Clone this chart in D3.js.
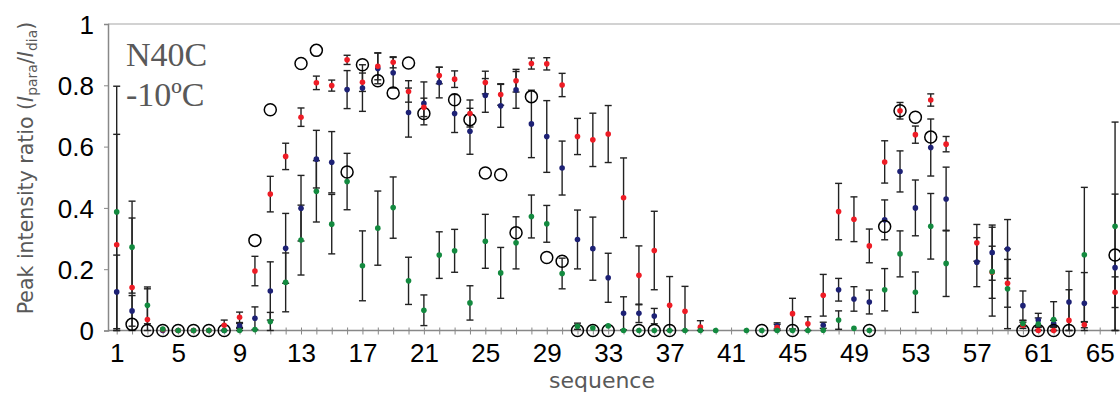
<!DOCTYPE html>
<html>
<head>
<meta charset="utf-8">
<script src="https://cdn.jsdelivr.net/npm/d3@7/dist/d3.min.js"></script>
<style>
  body { margin: 0; background: #fff; }
  svg { display: block; }
</style>
</head>
<body>
<figure id="chart" style="margin:0"></figure>
<script>
// residue numbers 1..66
const sequence = d3.range(1, 67);
const xTickLabels = [1, 5, 9, 13, 17, 21, 25, 29, 33, 37, 41, 45, 49, 53, 57, 61, 65];
const yTickLabels = [0, 0.2, 0.4, 0.6, 0.8, 1];

// red series (value, error) per residue, null = no data
const redValues = [0.28,0.14,0.036,0.003,0,0,0,0.017,0.043,0.194,0.445,0.568,0.696,0.808,0.799,0.883,0.81,0.862,0.875,0.78,0.728,0.832,0.82,0.708,0.809,0.77,0.815,0.871,0.87,0.801,0.633,0.622,0.641,0.433,0.18,0.261,0.082,0.063,0.011,null,null,null,null,0.01,0.055,0.022,0.115,0.388,0.363,0.276,0.55,0.717,0.639,0.752,0.608,null,0.286,0.19,0.154,0.017,0,0,0.033,0.019,null,0.125];
const redErrors = [0.36,0.227,0.1,0,0,0,0,0.017,0.017,0.048,0.058,0.043,0.03,0.022,0.018,0.015,0.03,0.044,0.018,0.035,0.03,0.027,0.027,0.044,0.037,0.035,0.037,0.018,0.02,0.038,0.059,0.087,0.093,0.13,0.096,0.128,0.094,0.081,0.021,null,null,null,null,0.01,0.05,0.023,0.068,0.092,0.073,0.055,0.069,0.027,0.028,0.02,0.025,null,0.06,0.085,0.078,0.01,0.01,0.01,0.1,0.01,null,0.05];

// navy series
const navyValues = [0.126,0.064,null,0,0,0,0,0,0.015,0.04,0.129,0.268,0.399,0.559,0.549,0.786,0.791,0.855,0.841,0.711,0.741,0.809,0.708,0.65,0.767,0.733,0.785,0.674,0.633,0.53,0.297,0.267,0.172,0.056,0.056,0.047,null,null,null,null,null,null,null,0.015,null,null,0.017,0.133,0.103,0.093,0.361,0.519,0.4,0.597,0.429,null,0.223,0.254,0.266,0.081,0.034,0.023,0.093,0.089,null,0.205];
const navyErrors = [0.12,0.05,null,0,0,0,0,0,0.008,0.037,0.095,0.114,0.107,0.094,0.1,0.062,0.076,0.05,0.05,0.08,0.07,0.05,0.062,0.075,0.055,0.07,0.06,0.11,0.117,0.088,0.096,0.103,0.08,0.054,0.03,0.025,null,null,null,null,null,null,null,0.01,null,null,0.01,0.037,0.04,0.039,0.065,0.067,0.091,0.093,0.104,null,0.08,0.09,0.096,0.048,0.022,0.01,0.1,0.1,null,0.24];

// green series
const greenValues = [0.387,0.272,0.082,0.005,0,0,0,0,0,0.003,0.029,0.157,0.295,0.454,0.347,0.486,0.211,0.334,0.401,0.162,0.066,0.246,0.26,0.09,0.291,0.188,0.286,0.372,0.348,0.186,0.014,0.008,0.015,0,0,0,0,0,0,0,null,0,0,0,0,0,0.001,0.034,0.007,0,0.133,0.25,0.125,0.34,0.219,null,null,0.192,0.136,0.023,0.021,0.036,null,0.247,null,0.34];
const greenErrors = [0.41,0.15,0.06,0,0,0,0,0,0.01,0,0.03,0.096,0.114,0.1,0.097,0.092,0.114,0.121,0.1,0.077,0.05,0.076,0.07,0.056,0.088,0.083,0.085,0.07,0.06,0.05,0.01,0,0,0,0,0,0,0,0,0,null,0,0,0,0,0,0,0.03,0,0,0.069,0.075,0.066,0.107,0.108,null,null,0.145,0.13,0.01,0.02,0.058,null,0.22,null,0.34];

// open circles
const circleValues = [null,0.02,0,0,0,0,0,0,null,0.294,0.72,null,0.871,0.914,null,0.517,0.867,0.815,0.775,0.873,0.708,null,0.753,0.688,0.514,0.508,0.319,0.763,0.238,0.226,0,0,0,null,0,0,0,null,null,null,null,null,0,null,0,null,null,null,null,0,0.339,0.717,0.696,0.631,null,null,null,null,null,0,0,0,0,null,null,0.246];

const width = 1120, height = 398;
const plotLeft = 108, plotRight = 1120, plotTop = 24, plotBottom = 330.5;

const svg = d3.select("figure#chart")
  .append("svg")
  .attr("width", width)
  .attr("height", height)
  .style("font-family", "'DejaVu Sans', sans-serif");

const x = d3.scaleLinear().domain([1, 65]).range([116.7, 1099.7]);
const y = d3.scaleLinear().domain([0, 1]).range([plotBottom, plotTop]);

// top border line
svg.append("line")
  .attr("x1", plotLeft).attr("x2", plotRight)
  .attr("y1", y(1)).attr("y2", y(1))
  .attr("stroke", "#d2d2d2").attr("stroke-width", 2);

// y axis
const yAxis = svg.append("g")
  .attr("transform", "translate(" + plotLeft + ",0)")
  .call(d3.axisLeft(y).tickValues(yTickLabels).tickFormat(d3.format("~g")).tickSize(4).tickPadding(10));
yAxis.select(".domain").attr("stroke", "#888").attr("stroke-width", 1.5);
yAxis.selectAll(".tick line").attr("stroke", "#888");
yAxis.selectAll("text").attr("font-size", 26).attr("fill", "#000").attr("dy", "0.35em");

// x axis: small ticks at every residue, labels every 4th
const xAxis = svg.append("g")
  .attr("transform", "translate(0," + plotBottom + ")")
  .call(d3.axisBottom(x).tickValues(sequence).tickSize(4).tickFormat(d => xTickLabels.includes(d) ? d : ""));
xAxis.select(".domain").attr("d", "M" + plotLeft + ",0H" + plotRight).attr("stroke", "#888").attr("stroke-width", 1.5);
xAxis.selectAll(".tick line").attr("stroke", "#888").attr("y1", -3);
xAxis.selectAll("text").attr("font-size", 26).attr("fill", "#000").attr("dy", "0.71em").attr("y", 13);

// axis titles
svg.append("text")
  .attr("transform", "translate(33,168) rotate(-90)")
  .attr("text-anchor", "middle")
  .attr("font-size", 20.5)
  .attr("fill", "#595959")
  .call(t => {
    t.append("tspan").text("Peak intensity ratio (");
    t.append("tspan").attr("font-style", "italic").text("I");
    t.append("tspan").attr("font-size", 14).attr("dy", 4).text("para");
    t.append("tspan").attr("dy", -4).text("/");
    t.append("tspan").attr("font-style", "italic").text("I");
    t.append("tspan").attr("font-size", 14).attr("dy", 4).text("dia");
    t.append("tspan").attr("dy", -4).text(")");
  });

svg.append("text")
  .attr("x", 602).attr("y", 388)
  .attr("text-anchor", "middle")
  .attr("font-size", 22)
  .attr("fill", "#595959")
  .text("sequence");

// sample labels
svg.append("text").attr("x", 126).attr("y", 66)
  .attr("font-family", "'Liberation Serif', serif").attr("font-size", 34).attr("fill", "#595959")
  .text("N40C");
svg.append("text").attr("x", 126).attr("y", 106)
  .attr("font-family", "'Liberation Serif', serif").attr("font-size", 34).attr("fill", "#595959")
  .text("-10ºC");

function seriesData(values, errors) {
  return sequence.map((s, i) => ({ s: s, v: values[i], e: errors ? errors[i] : null }))
    .filter(d => d.v !== null);
}

function drawErrorBars(data) {
  const g = svg.append("g").attr("stroke", "#222").attr("stroke-width", 1.4);
  data.filter(d => d.e).forEach(d => {
    const lo = y(Math.max(0, d.v - d.e)), hi = y(Math.min(1, d.v + d.e));
    const cx = x(d.s);
    g.append("line").attr("x1", cx).attr("x2", cx).attr("y1", lo).attr("y2", hi);
    g.append("line").attr("x1", cx - 3.5).attr("x2", cx + 3.5).attr("y1", lo).attr("y2", lo);
    g.append("line").attr("x1", cx - 3.5).attr("x2", cx + 3.5).attr("y1", hi).attr("y2", hi);
  });
}

function drawDots(data, color) {
  svg.append("g").selectAll("circle")
    .data(data)
    .enter()
    .append("circle")
    .attr("cx", d => x(d.s))
    .attr("cy", d => y(d.v))
    .attr("r", 2.8)
    .attr("fill", color);
}

const navy = seriesData(navyValues, navyErrors);
const red = seriesData(redValues, redErrors);
const green = seriesData(greenValues, greenErrors);
const open = seriesData(circleValues, null);

drawErrorBars(navy);
drawErrorBars(red);
drawErrorBars(green);
drawDots(navy, "#1d2175");

svg.append("g").selectAll("circle")
  .data(open)
  .enter()
  .append("circle")
  .attr("cx", d => x(d.s))
  .attr("cy", d => y(d.v))
  .attr("r", 6)
  .attr("fill", "#fff")
  .attr("fill-opacity", 0.0)
  .attr("stroke", "#000")
  .attr("stroke-width", 1.5);

drawDots(red, "#ee1c25");
drawDots(green, "#138a3f");
</script>
</body>
</html>
